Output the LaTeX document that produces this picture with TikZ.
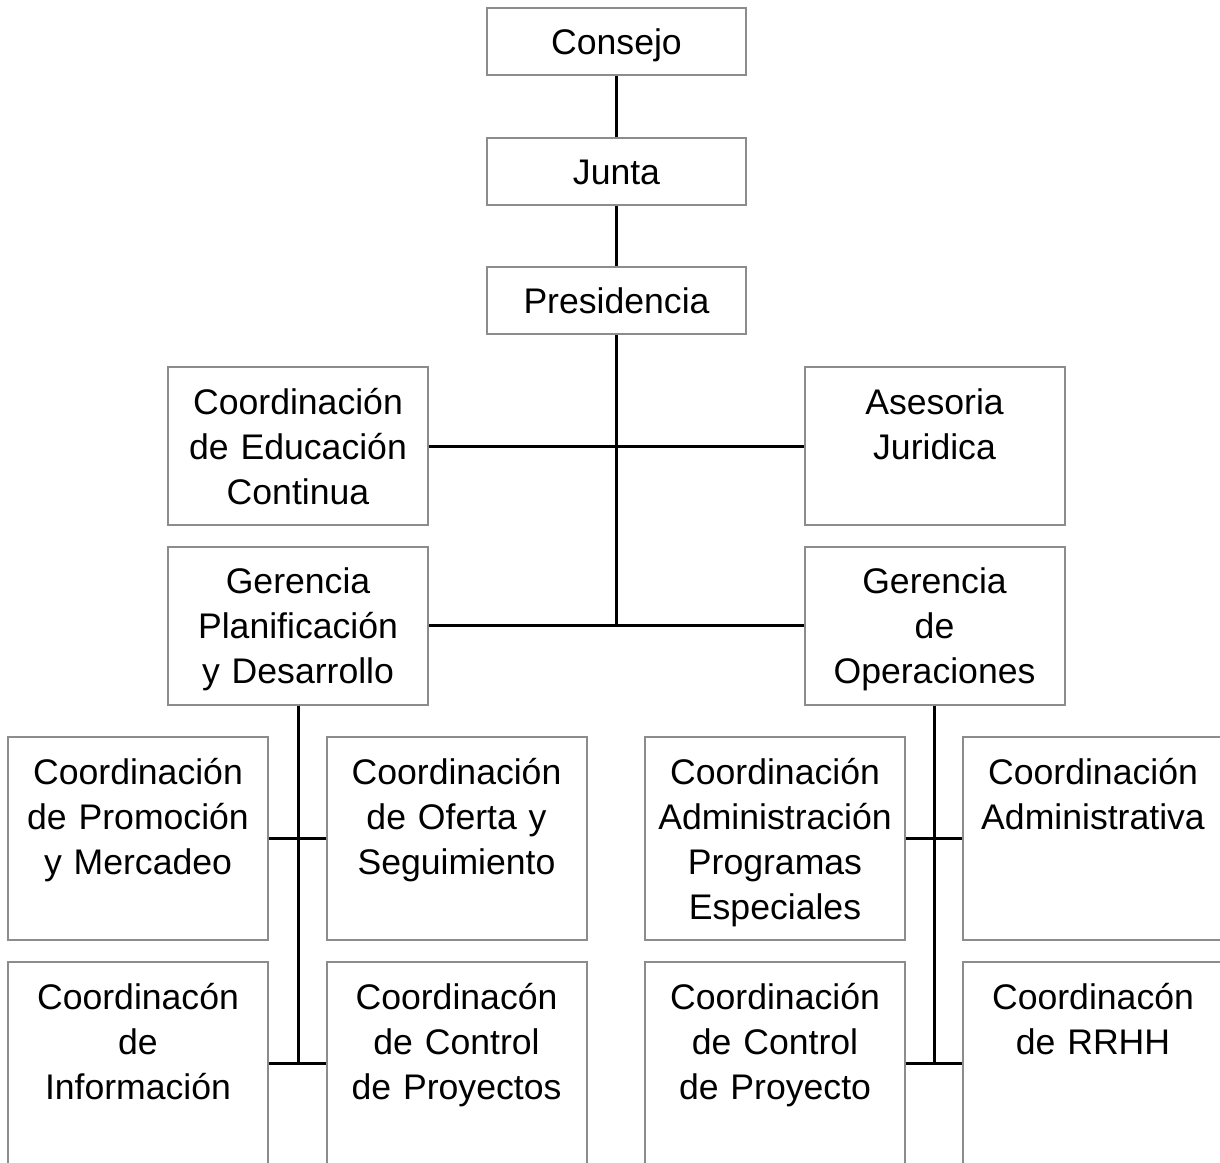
\documentclass[tikz,border=0pt]{standalone}
\usepackage{fontspec}
\setmainfont{Liberation Sans}
\usepackage{tikz}
\definecolor{boxgray}{gray}{0.55}
\tikzset{
  topbox/.style={draw=boxgray, line width=1pt, rectangle,
    minimum width=129.5pt, minimum height=33.5pt, inner sep=0pt,
    text height=12.7pt, text depth=0pt},
  midbox/.style={draw=boxgray, line width=1pt, rectangle,
    text width=130pt, align=center, inner sep=0pt,
    text height=23.5pt, text depth=55.5pt},
  lowbox/.style={draw=boxgray, line width=1pt, rectangle,
    text width=130pt, align=center, inner sep=0pt,
    text height=23.5pt, text depth=78pt},
  conn/.style={draw=black, line width=1.5pt}
}

\begin{document}
\begin{tikzpicture}[x=0.5pt, y=-0.5pt, font=\fontsize{17.8}{22.5}\selectfont]
\clip (0,0) rectangle (1220,1162);

\node[topbox] (consejo) at (616.5,41.5) {Consejo};
\node[topbox] (junta) at (616.5,171.5) {Junta};
\node[topbox] (pres) at (616.5,300.5) {Presidencia};

\node[midbox] (educ) at (298,446)
  {Coordinación\\de Educación\\Continua};
\node[midbox] (aseso) at (934.5,446)
  {Asesoria\\Juridica};
\node[midbox] (plan) at (298,625.5)
  {Gerencia\\Planificación\\y Desarrollo};
\node[midbox] (oper) at (934.5,625.5)
  {Gerencia\\de\\Operaciones};

\node[lowbox] (promo) at (138,838.5)
  {Coordinación\\de Promoción\\y Mercadeo};
\node[lowbox] (oferta) at (456.5,838.5)
  {Coordinación\\de Oferta y\\Seguimiento};
\node[lowbox] (admprog) at (775,838.5)
  {Coordinación\\Administración\\Programas\\Especiales};
\node[lowbox] (admin) at (1093,838.5)
  {Coordinación\\Administrativa};

\node[lowbox] (info) at (138,1063.5)
  {Coordinacón\\de\\Información};
\node[lowbox] (ctrlp) at (456.5,1063.5)
  {Coordinacón\\de Control\\de Proyectos};
\node[lowbox] (ctrlpy) at (775,1063.5)
  {Coordinación\\de Control\\de Proyecto};
\node[lowbox] (rrhh) at (1093,1063.5)
  {Coordinacón\\de RRHH};

\draw[conn] (consejo) -- (junta);
\draw[conn] (junta) -- (pres);
\draw[conn] (pres.south) -- (pres.south |- plan.east);
\draw[conn] (educ) -- (aseso);
\draw[conn] (plan) -- (oper);

\draw[conn] (plan.south) -- (plan.south |- info.east);
\draw[conn] (promo) -- (oferta);
\draw[conn] (info) -- (ctrlp);

\draw[conn] (oper.south) -- (oper.south |- rrhh.west);
\draw[conn] (admprog) -- (admin);
\draw[conn] (ctrlpy) -- (rrhh);
\end{tikzpicture}
\end{document}
